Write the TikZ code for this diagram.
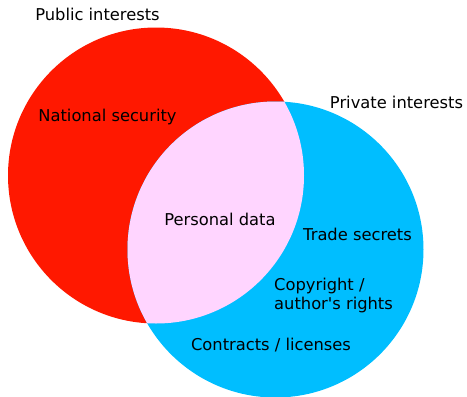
\documentclass[tikz,border=0pt]{standalone}
\usepackage{fontspec}
\setmainfont{DejaVu Sans}
\usetikzlibrary{positioning}
\definecolor{pubred}{RGB}{255,24,0}
\definecolor{privblue}{RGB}{0,190,255}
\definecolor{overlap}{RGB}{255,213,255}
\tikzset{
  set/.style={circle,fill=#1,minimum size=296pt,inner sep=0pt},
  set/.default=pubred,
  lbl/.style={font=\fontsize{16.3}{19}\selectfont,text=black,inner sep=0pt,align=center},
}
\begin{document}
\begin{tikzpicture}[x=1pt,y=-1pt]
  \useasboundingbox (0,0) rectangle (467,397);
  % the two interest sets
  \node[set=pubred] (public) at (156,175.5) {};
  \node[set=privblue] (private) at (275.5,249.5) {};
  % shared part
  \begin{scope}
    \clip (public.center) circle (148pt);
    \fill[overlap] (private.center) circle (148pt);
  \end{scope}
  \node[lbl] (pubtitle) at (97.5,14) {Public interests};
  \node[lbl] (privtitle) at (396.5,102) {Private interests};
  \node[lbl] (natsec) at (107.5,117) {National security};
  \node[lbl] (persdata) at (220,219) {Personal data};
  \node[lbl] (trade) at (357.5,234) {Trade secrets};
  \node[lbl,align=left,anchor=north west] (copyright) at (274,278) {Copyright /\\author\textquotesingle s rights};
  \node[lbl] (contracts) at (271,345) {Contracts / licenses};
\end{tikzpicture}
\end{document}
